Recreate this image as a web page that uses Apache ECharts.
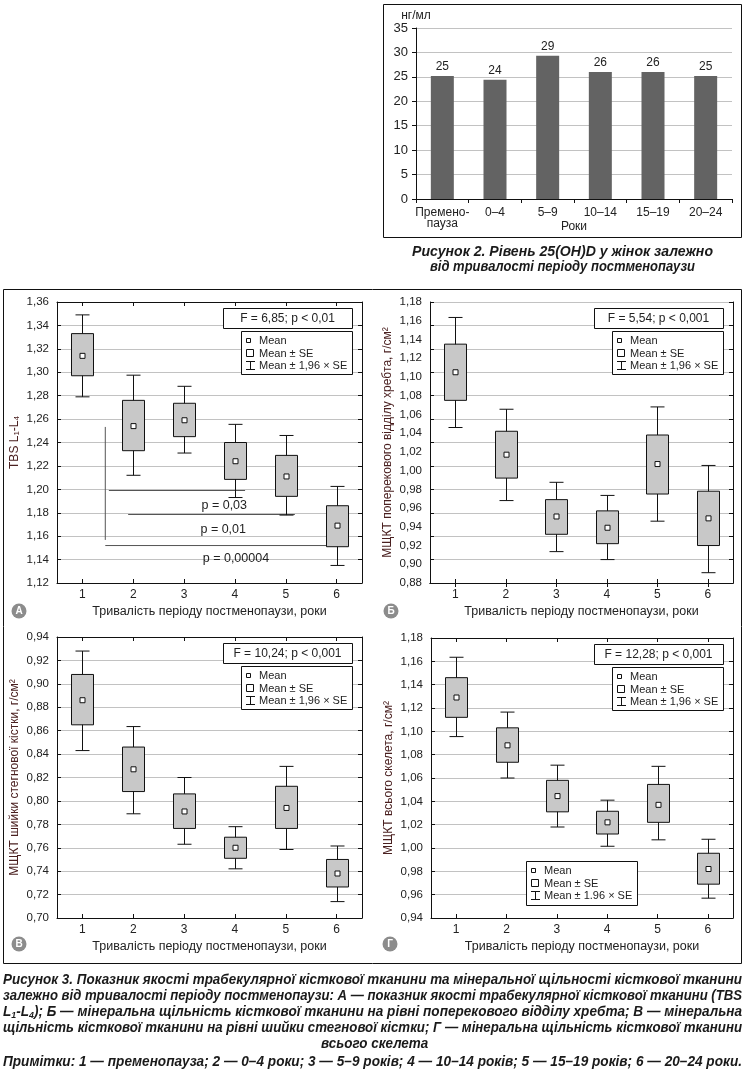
<!DOCTYPE html>
<html>
<head>
<meta charset="utf-8">
<script src="https://cdn.jsdelivr.net/npm/echarts@6.0.0/dist/echarts.min.js"></script>
<style>
html,body{margin:0;padding:0;background:#fff;}
#chart{position:absolute;left:0;top:0;width:745px;height:1071px;}
.cap{position:absolute;white-space:nowrap;font-family:'Liberation Sans',Arial,sans-serif;font-weight:bold;font-style:italic;color:#1a1a1a;transform-origin:0 0;line-height:1;}
.cap sub{font-size:0.65em;vertical-align:-0.25em;line-height:0;}
</style>
</head>
<body>
<div id="chart"></div>
<div id="caps"></div>
<script>
// ---------------- DATA ----------------
// Figure 2: 25(OH)D level, ng/ml
const vitCategories = ['Премено-\nпауза', '0–4', '5–9', '10–14', '15–19', '20–24'];
const vitValues = [25.2, 24.4, 29.3, 26.0, 26.0, 25.2];
const vitLabels = ['25', '24', '29', '26', '26', '25'];
const vitAxisTicks = [0, 5, 10, 15, 20, 25, 30, 35];

// Figure 3: groups 1..6
const groups = ['1', '2', '3', '4', '5', '6'];

// A — TBS L1-L4
const tbsMean   = [1.314, 1.254, 1.259, 1.224, 1.211, 1.169];
const tbsSeLow  = [1.297, 1.233, 1.245, 1.2085, 1.194, 1.151];
const tbsSeHigh = [1.333, 1.276, 1.2735, 1.240, 1.229, 1.186];
const tbsCiLow  = [1.279, 1.212, 1.231, 1.193, 1.178, 1.135];
const tbsCiHigh = [1.349, 1.2975, 1.288, 1.2555, 1.246, 1.2025];

// Б — lumbar spine BMD
const lumbarMean   = [1.105, 1.017, 0.951, 0.939, 1.007, 0.949];
const lumbarSeLow  = [1.075, 0.992, 0.932, 0.922, 0.975, 0.920];
const lumbarSeHigh = [1.135, 1.042, 0.969, 0.957, 1.038, 0.978];
const lumbarCiLow  = [1.046, 0.968, 0.9135, 0.905, 0.946, 0.891];
const lumbarCiHigh = [1.1635, 1.0655, 0.9875, 0.9735, 1.068, 1.0055];

// В — femoral neck BMD
const femMean   = [0.886, 0.827, 0.791, 0.760, 0.794, 0.738];
const femSeLow  = [0.865, 0.808, 0.7765, 0.751, 0.7765, 0.7265];
const femSeHigh = [0.908, 0.846, 0.806, 0.769, 0.8125, 0.750];
const femCiLow  = [0.843, 0.789, 0.763, 0.742, 0.7585, 0.714];
const femCiHigh = [0.928, 0.8635, 0.820, 0.778, 0.8295, 0.7615];

// Г — whole skeleton BMD
const skelMean   = [1.129, 1.088, 1.0445, 1.022, 1.037, 0.982];
const skelSeLow  = [1.112, 1.0735, 1.031, 1.012, 1.022, 0.969];
const skelSeHigh = [1.146, 1.103, 1.058, 1.0315, 1.0545, 0.9955];
const skelCiLow  = [1.0955, 1.060, 1.018, 1.0015, 1.007, 0.957];
const skelCiHigh = [1.1635, 1.1165, 1.071, 1.041, 1.070, 1.0075];

// A significance brackets (x in group units, y in TBS units)
const sigVertical = [[1.45, 1.2533], [1.45, 1.1568]];
const sigLine1 = [[1.52, 1.199], [4.20, 1.199]];
const sigLine2 = [[1.90, 1.1785], [5.18, 1.1785]];
const sigLine3 = [[1.45, 1.152], [6.07, 1.152]];
const sigLabelPos = [[3.79, 1.1858], [3.77, 1.166], [4.02, 1.1405]];
const sigLabelText = ['p = 0,03', 'p = 0,01', 'p = 0,00004'];

const statTexts = ['F = 6,85; p < 0,01', 'F = 5,54; p < 0,001', 'F = 10,24; p < 0,001', 'F = 12,28; p < 0,001'];
const legendTexts = ['Mean', 'Mean ± SE', 'Mean ± 1,96 × SE'];
const legendTextsAlt = ['Mean', 'Mean ± SE', 'Mean ± 1.96 × SE'];
const xTitle = 'Тривалість періоду постменопаузи, роки';

// ---------------- CHART ----------------
const FONT = "'Liberation Sans', Arial, Helvetica, sans-serif";
const AX = '#111';
const GRIDC = '#c2c2c2';
const TXT = '#222';
const YNAME = '#4a2020';
const fmt2 = v => v.toFixed(2).replace('.', ',');

const chart = echarts.init(document.getElementById('chart'), null, {renderer: 'canvas'});

const grids = [], xAxes = [], yAxes = [], series = [], graphics = [];

// ---- Figure 2 bar chart ----
grids.push({left: 416, top: 28, width: 316, height: 171});
xAxes.push({
  type: 'category', gridIndex: 0, data: vitCategories,
  axisLine: {lineStyle: {color: AX}},
  axisTick: {show: true, length: 4, lineStyle: {color: AX}},
  axisLabel: {color: TXT, fontSize: 12, margin: 8, lineHeight: 11, interval: 0, fontFamily: FONT},
  name: 'Роки', nameLocation: 'middle', nameGap: 22, nameMoveOverlap: false,
  nameTextStyle: {color: TXT, fontSize: 12, fontFamily: FONT}
});
yAxes.push({
  type: 'value', gridIndex: 0, min: vitAxisTicks[0], max: vitAxisTicks[vitAxisTicks.length - 1], interval: 5,
  axisLine: {show: true, lineStyle: {color: AX}},
  axisTick: {show: true, length: 4, lineStyle: {color: AX}},
  axisLabel: {color: TXT, fontSize: 13, margin: 8, fontFamily: FONT},
  splitLine: {show: true, lineStyle: {color: GRIDC}},
  name: 'нг/мл', nameLocation: 'end', nameGap: 6,
  nameTextStyle: {color: TXT, fontSize: 12, align: 'center', fontFamily: FONT}
});
series.push({
  type: 'bar', xAxisIndex: 0, yAxisIndex: 0, data: vitValues, barWidth: 23,
  itemStyle: {color: '#636363'},
  label: {show: true, position: 'top', distance: 3, color: TXT, fontSize: 12, fontFamily: FONT,
          formatter: p => vitLabels[p.dataIndex]}
});

// ---- box panel helper ----
function boxRender(params, api) {
  const x = api.value(0);
  const pm = api.coord([x, api.value(1)]);
  const pLo = api.coord([x, api.value(2)]);
  const pHi = api.coord([x, api.value(3)]);
  const cLo = api.coord([x, api.value(4)]);
  const cHi = api.coord([x, api.value(5)]);
  const cx = Math.round(pm[0]) + 0.5;
  const bw = 22, cw = 14, ms = 5;
  const ls = {stroke: '#111', lineWidth: 1};
  return {
    type: 'group',
    children: [
      {type: 'line', shape: {x1: cx, y1: cHi[1], x2: cx, y2: cLo[1]}, style: ls},
      {type: 'line', shape: {x1: cx - cw / 2, y1: cHi[1], x2: cx + cw / 2, y2: cHi[1]}, style: ls},
      {type: 'line', shape: {x1: cx - cw / 2, y1: cLo[1], x2: cx + cw / 2, y2: cLo[1]}, style: ls},
      {type: 'rect', shape: {x: cx - bw / 2, y: pHi[1], width: bw, height: pLo[1] - pHi[1]},
       style: {fill: '#c8c8c8', stroke: '#111', lineWidth: 1}},
      {type: 'rect', shape: {x: cx - ms / 2, y: pm[1] - ms / 2, width: ms, height: ms},
       style: {fill: '#fff', stroke: '#111', lineWidth: 1}}
    ]
  };
}

const ZG = 100;

function addPanel(cfg) {
  const g = grids.length;
  grids.push({left: cfg.left, top: cfg.top, width: cfg.width, height: cfg.height});
  const axLine = {show: true, lineStyle: {color: AX, width: 1}};
  xAxes.push({
    type: 'category', gridIndex: g, data: groups, position: 'bottom',
    axisLine: axLine,
    axisTick: {show: true, inside: true, alignWithLabel: true, length: 4, lineStyle: {color: AX}},
    axisLabel: {color: TXT, fontSize: 12, margin: 6, interval: 0, fontFamily: FONT},
    splitLine: {show: false},
    name: xTitle, nameLocation: 'middle', nameGap: 22, nameMoveOverlap: false,
    nameTextStyle: {color: TXT, fontSize: 12.5, fontFamily: FONT}
  });
  xAxes.push({
    type: 'category', gridIndex: g, data: groups, position: 'top',
    axisLine: axLine,
    axisTick: {show: true, inside: true, alignWithLabel: true, length: 4, lineStyle: {color: AX}},
    axisLabel: {show: false}, splitLine: {show: false}
  });
  const xVal = xAxes.length;
  xAxes.push({type: 'value', gridIndex: g, min: 0.5, max: 6.5, show: false, position: 'bottom'});

  const yLab = yAxes.length;
  const alt = !!cfg.altGrid;
  yAxes.push({
    type: 'value', gridIndex: g, min: cfg.min, max: cfg.max, interval: 0.02, position: 'left',
    axisLine: axLine,
    axisTick: {show: !alt, inside: true, length: 4, lineStyle: {color: AX}},
    axisLabel: {color: TXT, fontSize: 11.5, margin: 8, fontFamily: FONT, formatter: fmt2},
    splitLine: {show: !alt, lineStyle: {color: GRIDC}},
    name: cfg.yName, nameLocation: 'middle', nameGap: 36, nameMoveOverlap: false,
    nameTextStyle: {color: YNAME, fontSize: 12, fontFamily: FONT,
      rich: {s: {fontSize: 8, color: YNAME, verticalAlign: 'bottom', fontFamily: FONT}}}
  });
  yAxes.push({
    type: 'value', gridIndex: g, min: cfg.min, max: cfg.max, interval: 0.02, position: 'right',
    axisLine: axLine,
    axisTick: {show: !alt, inside: true, length: 4, lineStyle: {color: AX}},
    axisLabel: {show: false}, splitLine: {show: false}
  });
  if (alt) {
    yAxes.push({
      type: 'value', gridIndex: g, min: 0, max: cfg.altGrid, interval: 1, position: 'left',
      axisLine: {show: false},
      axisTick: {show: true, inside: true, length: 4, lineStyle: {color: AX}},
      axisLabel: {show: false}, splitLine: {show: true, lineStyle: {color: GRIDC}}
    });
    yAxes.push({
      type: 'value', gridIndex: g, min: 0, max: cfg.altGrid, interval: 1, position: 'right',
      axisLine: {show: false},
      axisTick: {show: true, inside: true, length: 4, lineStyle: {color: AX}},
      axisLabel: {show: false}, splitLine: {show: false}
    });
  }
  series.push({
    type: 'custom', xAxisIndex: xVal, yAxisIndex: yLab, z: 10,
    renderItem: boxRender,
    encode: {x: 0, y: [1, 2, 3, 4, 5]},
    data: groups.map((gname, i) => [i + 1, cfg.mean[i], cfg.seLo[i], cfg.seHi[i], cfg.ciLo[i], cfg.ciHi[i]])
  });

  // stat box + legend (decoration)
  const right = cfg.left + cfg.width;
  graphics.push(statBox(right - 139, cfg.top + 6, 129, 20, cfg.stat));
  graphics.push(legendBox(right - 121, cfg.top + 29, 111, 43, legendTexts));
  // badge
  graphics.push({type: 'circle', z: ZG, shape: {cx: cfg.badge[0], cy: cfg.badge[1], r: 7.5}, style: {fill: '#8c8c8c'}});
  graphics.push({type: 'text', z: ZG + 1, x: cfg.badge[0], y: cfg.badge[1] + 0.5,
    style: {text: cfg.letter, fill: '#fff', font: 'bold 10px ' + FONT, align: 'center', verticalAlign: 'middle'}});
  return {xVal, yLab};
}

function statBox(x, y, w, h, text) {
  return {type: 'group', x: x, y: y, children: [
    {type: 'rect', z: ZG, shape: {x: 0.5, y: 0.5, width: w, height: h}, style: {fill: '#fff', stroke: '#111', lineWidth: 1}},
    {type: 'text', z: ZG + 1, x: w / 2, y: h / 2 + 1, style: {text: text, fill: TXT, font: '12px ' + FONT, align: 'center', verticalAlign: 'middle'}}
  ]};
}

function legendBox(x, y, w, h, texts) {
  const ls = {stroke: '#111', lineWidth: 1};
  const tf = '11px ' + FONT;
  return {type: 'group', x: x, y: y, children: [
    {type: 'rect', z: ZG, shape: {x: 0.5, y: 0.5, width: w, height: h}, style: {fill: '#fff', stroke: '#111', lineWidth: 1}},
    {type: 'rect', z: ZG + 1, shape: {x: 5.5, y: 7.5, width: 4, height: 4}, style: {fill: '#fff', stroke: '#111', lineWidth: 1}},
    {type: 'rect', z: ZG + 1, shape: {x: 5.5, y: 18.5, width: 7, height: 7}, style: {fill: '#fff', stroke: '#111', lineWidth: 1}},
    {type: 'line', z: ZG + 1, shape: {x1: 9.5, y1: 30, x2: 9.5, y2: 39}, style: ls},
    {type: 'line', z: ZG + 1, shape: {x1: 5, y1: 30.5, x2: 14, y2: 30.5}, style: ls},
    {type: 'line', z: ZG + 1, shape: {x1: 5, y1: 38.5, x2: 14, y2: 38.5}, style: ls},
    {type: 'text', z: ZG + 1, x: 18, y: 10, style: {text: texts[0], fill: TXT, font: tf, verticalAlign: 'middle'}},
    {type: 'text', z: ZG + 1, x: 18, y: 22.5, style: {text: texts[1], fill: TXT, font: tf, verticalAlign: 'middle'}},
    {type: 'text', z: ZG + 1, x: 18, y: 35, style: {text: texts[2], fill: TXT, font: tf, verticalAlign: 'middle'}}
  ]};
}

const pA = addPanel({left: 57, top: 302, width: 305, height: 281, min: 1.12, max: 1.36,
  yName: 'TBS L{s|1}-L{s|4}', mean: tbsMean, seLo: tbsSeLow, seHi: tbsSeHigh, ciLo: tbsCiLow, ciHi: tbsCiHigh,
  stat: statTexts[0], badge: [19, 611], letter: 'А'});
addPanel({left: 430, top: 302, width: 303, height: 281, min: 0.88, max: 1.18, altGrid: 12,
  yName: 'МЩКТ поперекового відділу хребта, г/см²', mean: lumbarMean, seLo: lumbarSeLow, seHi: lumbarSeHigh, ciLo: lumbarCiLow, ciHi: lumbarCiHigh,
  stat: statTexts[1], badge: [391, 611], letter: 'Б'});
addPanel({left: 57, top: 637, width: 305, height: 281, min: 0.70, max: 0.94,
  yName: 'МЩКТ шийки стегнової кістки, г/см²', mean: femMean, seLo: femSeLow, seHi: femSeHigh, ciLo: femCiLow, ciHi: femCiHigh,
  stat: statTexts[2], badge: [19, 944], letter: 'В'});
addPanel({left: 431, top: 638, width: 302, height: 280, min: 0.94, max: 1.18,
  yName: 'МЩКТ всього скелета, г/см²', mean: skelMean, seLo: skelSeLow, seHi: skelSeHigh, ciLo: skelCiLow, ciHi: skelCiHigh,
  stat: statTexts[3], badge: [390, 944], letter: 'Г'});
graphics.push(legendBox(526, 861, 111, 44, legendTextsAlt));

// significance lines in A
[sigVertical, sigLine1, sigLine2, sigLine3].forEach(seg => {
  series.push({type: 'line', xAxisIndex: pA.xVal, yAxisIndex: pA.yLab, data: seg, symbol: 'none', silent: true, z: 5,
    lineStyle: {color: '#555', width: 1}});
});
series.push({
  type: 'custom', xAxisIndex: pA.xVal, yAxisIndex: pA.yLab, z: 6, data: sigLabelPos,
  renderItem: (params, api) => {
    const p = api.coord([api.value(0), api.value(1)]);
    return {type: 'text', x: p[0], y: p[1],
      style: {text: sigLabelText[params.dataIndex], fill: TXT, font: '12.5px ' + FONT, align: 'center', verticalAlign: 'middle'}};
  }
});

// frames
graphics.push({type: 'rect', z: ZG, shape: {x: 383.5, y: 4.5, width: 358, height: 233}, style: {fill: 'none', stroke: '#111', lineWidth: 1}});
graphics.push({type: 'rect', z: ZG, shape: {x: 3.5, y: 289.5, width: 738, height: 674}, style: {fill: 'none', stroke: '#111', lineWidth: 1}});

chart.setOption({
  animation: false,
  backgroundColor: '#fff',
  textStyle: {fontFamily: FONT},
  grid: grids, xAxis: xAxes, yAxis: yAxes, series: series,
  graphic: {elements: graphics}
});

// ---------------- CAPTIONS ----------------
// full-width lines are fitted to [x0, x1]; centred lines use the scale of the reference line
const capLines = [
  {html: 'Рисунок 2. Рівень 25(OH)D у жінок залежно', x0: 412, x1: 713, y: 252, size: 14},
  {html: 'від тривалості періоду постменопаузи', x0: 430, x1: 695, y: 267, size: 14},
  {html: 'Рисунок 3. Показник якості трабекулярної кісткової тканини та мінеральної щільності кісткової тканини', x0: 3, x1: 742, y: 980, size: 14},
  {html: 'залежно від тривалості періоду постменопаузи: А — показник якості трабекулярної кісткової тканини (TBS', x0: 3, x1: 742, y: 996, size: 14},
  {html: 'L<sub>1</sub>-L<sub>4</sub>); Б — мінеральна щільність кісткової тканини на рівні поперекового відділу хребта; В — мінеральна', x0: 3, x1: 742, y: 1012, size: 14},
  {html: 'щільність кісткової тканини на рівні шийки стегнової кістки; Г — мінеральна щільність кісткової тканини', x0: 3, x1: 742, y: 1028, size: 14},
  {html: 'всього скелета', cx: 375, refScale: 2, y: 1044, size: 14},
  {html: 'Примітки: 1 — пременопауза; 2 — 0–4 роки; 3 — 5–9 років; 4 — 10–14 років; 5 — 15–19 років; 6 — 20–24 роки.', x0: 3, x1: 742, y: 1062, size: 14}
];
const caps = document.getElementById('caps');
const scales = [];
capLines.forEach((c, i) => {
  const d = document.createElement('div');
  d.className = 'cap';
  d.style.fontSize = c.size + 'px';
  d.innerHTML = c.html;
  caps.appendChild(d);
  const w = d.getBoundingClientRect().width;
  let s, left;
  if (c.cx !== undefined) {
    s = scales[c.refScale];
    left = c.cx - w * s / 2;
  } else {
    s = (c.x1 - c.x0) / w;
    left = c.x0;
  }
  scales[i] = s;
  d.style.left = left + 'px';
  d.style.top = (c.y - c.size * 0.55) + 'px';
  d.style.transform = 'scaleX(' + s + ')';
});
</script>
</body>
</html>
